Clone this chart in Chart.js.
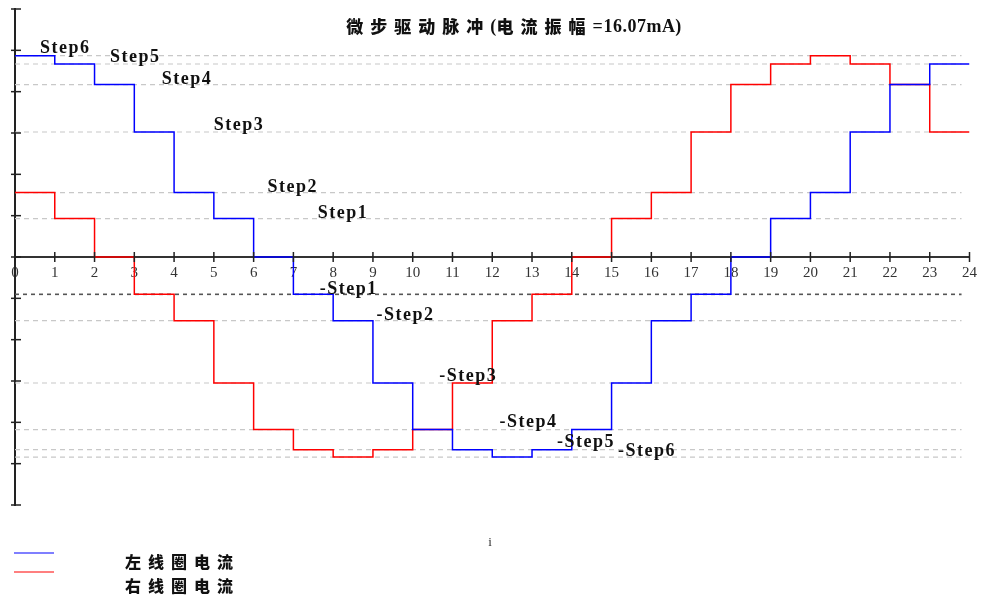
<!DOCTYPE html>
<html lang="zh">
<head>
<meta charset="utf-8">
<title>微步驱动脉冲</title>
<script src="https://cdn.jsdelivr.net/npm/chart.js@4.4.0/dist/chart.umd.min.js"></script>
<style>
  html, body { margin: 0; padding: 0; background: #fff; }
  #wrap { width: 984px; height: 596px; }
</style>
</head>
<body>
<div id="wrap"><canvas id="chart" width="984" height="596"></canvas></div>
<script>
// 步序 (横轴)
var steps = [0,1,2,3,4,5,6,7,8,9,10,11,12,13,14,15,16,17,18,19,20,21,22,23,24];

// 左右线圈电流 (mA), 每个值保持到下一步
var leftCoil  = [16.07, 15.41, 13.77, 9.98, 5.14, 3.07, 0, -2.98, -5.08, -10.06, -13.78, -15.38, -15.97,
                 -15.38, -13.78, -10.06, -5.08, -2.98, 0, 3.07, 5.14, 9.98, 13.77, 15.41, 15.41];
var rightCoil = [5.14, 3.07, 0, -2.98, -5.08, -10.06, -13.78, -15.38, -15.97, -15.38, -13.78, -10.06, -5.08,
                 -2.98, 0, 3.07, 5.14, 9.98, 13.77, 15.41, 16.07, 15.41, 13.77, 9.98, 9.98];

// 各台阶参考线
var guideLevels = [16.07, 15.41, 13.77, 9.98, 5.14, 3.07, -2.98, -5.08, -10.06, -13.78, -15.38, -15.97];

// 台阶标注
var stepLabels = ['Step6', 'Step5', 'Step4', 'Step3', 'Step2', 'Step1',
                  '-Step1', '-Step2', '-Step3', '-Step4', '-Step5', '-Step6'];
var stepLabelX = [0.63, 2.39, 3.69, 5.0, 6.35, 7.61, 7.66, 9.09, 10.67, 12.18, 13.63, 15.16];
var stepLabelY = [16.65, 15.93, 14.18, 10.52, 5.58, 3.51, -2.55, -4.62, -9.56, -13.23, -14.82, -15.54];

// 纵轴刻度 (无标签)
var yTicks = [-19.8, -16.5, -13.2, -9.9, -6.6, -3.3, 0, 3.3, 6.6, 9.9, 13.2, 16.5, 19.8];

var seriesNames = ['左线圈电流', '右线圈电流'];
// 标题分段: 中文 / 西文
var titleParts = ['微步驱动脉冲', '(', '电流振幅', '=16.07mA)'];

function toPoints(vals) {
    return vals.map(function (v, i) { return {x: steps[i], y: v}; });
}

var datasets = [
    {label: seriesNames[0], data: toPoints(leftCoil), borderColor: '#0000ff', borderWidth: 1.5,
     stepped: true, pointRadius: 0, order: 1},
    {label: seriesNames[1], data: toPoints(rightCoil), borderColor: '#ff0000', borderWidth: 1.5,
     stepped: true, pointRadius: 0, order: 1}
];
guideLevels.forEach(function (v, i) {
    var dark = (i === 6);
    datasets.push({
        label: 'guide' + i,
        data: [{x: 0, y: v}, {x: 23.8, y: v}],
        borderColor: dark ? '#555555' : '#c8c8c8',
        borderWidth: dark ? 1.6 : 1.2,
        borderDash: dark ? [4, 4] : [5, 4],
        pointRadius: 0,
        order: 2
    });
});

var CJK_FONT = '900 17px "Noto Sans CJK SC"';
var LAT_FONT = 'bold 18px "Liberation Serif"';

var decor = {
    id: 'decor',
    afterDraw: function (chart) {
        var ctx = chart.ctx;
        var xs = chart.scales.x, ys = chart.scales.y;
        var y0 = ys.getPixelForValue(0);
        var left = chart.chartArea.left;
        ctx.save();

        // tick crosses
        ctx.strokeStyle = '#222';
        ctx.lineWidth = 1.5;
        xs.ticks.forEach(function (t) {
            var px = xs.getPixelForValue(t.value);
            ctx.beginPath(); ctx.moveTo(px, y0 - 5); ctx.lineTo(px, y0 + 5); ctx.stroke();
        });
        ys.ticks.forEach(function (t) {
            var py = ys.getPixelForValue(t.value);
            ctx.beginPath(); ctx.moveTo(left - 4, py); ctx.lineTo(left + 6, py); ctx.stroke();
        });

        // title, cjk and latin parts drawn separately
        ctx.fillStyle = '#111';
        ctx.textBaseline = 'middle';
        ctx.textAlign = 'left';
        function setPart(i) {
            var cjk = (i % 2 === 0);
            ctx.font = cjk ? CJK_FONT : LAT_FONT;
            ctx.letterSpacing = cjk ? '7px' : '0.5px';
        }
        var widths = titleParts.map(function (p, i) { setPart(i); return ctx.measureText(p).width; });
        var total = widths.reduce(function (a, b) { return a + b; }, 0);
        var tx = 514 - total / 2;
        titleParts.forEach(function (p, i) {
            setPart(i);
            ctx.fillText(p, tx, 27);
            tx += widths[i];
        });

        // step labels
        ctx.font = 'bold 18px "Liberation Serif"';
        ctx.letterSpacing = '1.5px';
        stepLabels.forEach(function (s, i) {
            ctx.fillText(s, xs.getPixelForValue(stepLabelX[i]), ys.getPixelForValue(stepLabelY[i]));
        });

        // axis title
        ctx.letterSpacing = '0px';
        ctx.font = '13px "Liberation Serif"';
        ctx.fillStyle = '#333';
        ctx.textAlign = 'center';
        ctx.fillText('i', 490, 543);

        // legend
        var legendY = [553, 572], labelY = [562, 586];
        ctx.textAlign = 'left';
        ctx.font = '900 16px "Noto Sans CJK SC"';
        ctx.letterSpacing = '7px';
        chart.data.datasets.slice(0, 2).forEach(function (ds, i) {
            ctx.strokeStyle = ds.borderColor;
            ctx.lineWidth = 1.2;
            ctx.beginPath(); ctx.moveTo(14, legendY[i]); ctx.lineTo(54, legendY[i]); ctx.stroke();
            ctx.fillStyle = '#111';
            ctx.fillText(ds.label, 125, labelY[i]);
        });
        ctx.restore();
    }
};

new Chart(document.getElementById('chart'), {
    type: 'line',
    data: {datasets: datasets},
    options: {
        responsive: false,
        animation: false,
        devicePixelRatio: 1,
        layout: {padding: {left: 15, right: 13, top: 9, bottom: 91}},
        plugins: {legend: {display: false}, tooltip: {enabled: false}},
        scales: {
            x: {
                type: 'linear',
                position: {y: 0},
                min: 0, max: 24,
                grid: {drawOnChartArea: false, drawTicks: false},
                border: {display: true, color: '#333', width: 2},
                ticks: {stepSize: 1, autoSkip: false, maxRotation: 0, padding: 7,
                        color: '#333', font: {family: '"Liberation Serif"', size: 15}}
            },
            y: {
                type: 'linear',
                min: -19.8, max: 19.8,
                grid: {drawOnChartArea: false, drawTicks: false},
                border: {display: true, color: '#222', width: 2},
                ticks: {display: false},
                afterBuildTicks: function (scale) {
                    scale.ticks = yTicks.map(function (v) { return {value: v}; });
                }
            }
        }
    },
    plugins: [decor]
});
</script>
</body>
</html>
